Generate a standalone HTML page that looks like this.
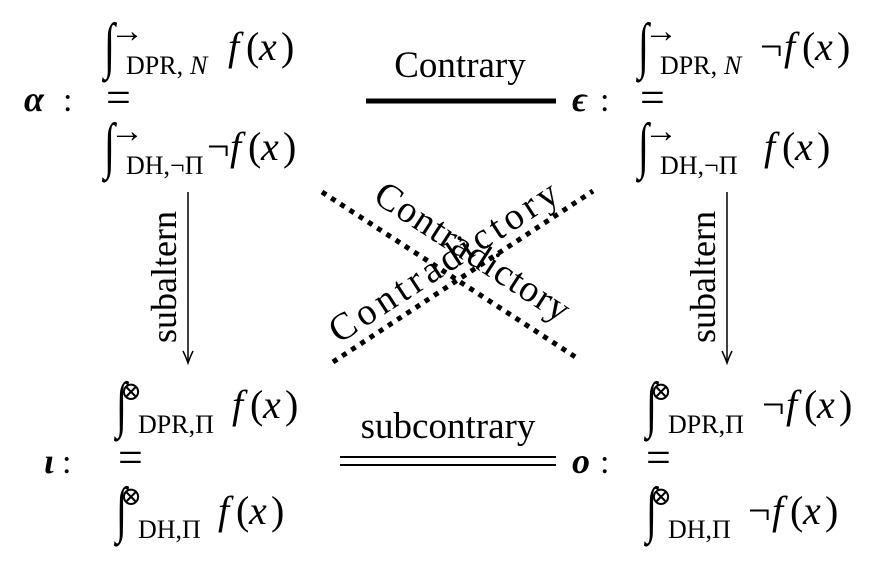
<!DOCTYPE html>
<html><head><meta charset="utf-8"><style>
html,body{margin:0;padding:0;background:#fff;}
svg{display:block;}
text{font-family:"Liberation Serif","DejaVu Serif",serif;fill:#000;}
.i{font-style:italic;}
</style></head><body>
<svg width="879" height="566" viewBox="0 0 879 566">
<!-- alpha block -->
<text x="24" y="111" font-size="36" font-weight="bold" class="i">α</text>
<text x="63" y="111" font-size="34">:</text>
<text transform="translate(104,66) scale(1,1.55)" font-size="40" class="i">∫</text>
<text x="110" y="42" font-size="34">→</text>
<text x="126" y="74" font-size="26">DPR,</text>
<text x="190" y="74" font-size="26" class="i">N</text>
<text x="228" y="60" font-size="40" class="i">f</text><text x="246" y="60" font-size="40">(</text><text x="259" y="60" font-size="40" class="i">x</text><text x="281" y="60" font-size="40">)</text>
<text x="106" y="112" font-size="44">=</text>
<text transform="translate(104,166) scale(1,1.55)" font-size="40" class="i">∫</text>
<text x="110" y="142" font-size="34">→</text>
<text x="126" y="174" font-size="26">DH,¬Π</text>
<text x="207" y="160" font-size="40">¬</text><text x="230" y="160" font-size="40" class="i">f</text><text x="248" y="160" font-size="40">(</text><text x="261" y="160" font-size="40" class="i">x</text><text x="283" y="160" font-size="40">)</text>
<!-- epsilon block -->
<text x="572" y="111" font-size="36" font-weight="bold" class="i">ϵ</text>
<text x="600" y="111" font-size="34">:</text>
<text transform="translate(638,66) scale(1,1.55)" font-size="40" class="i">∫</text>
<text x="644" y="42" font-size="34">→</text>
<text x="660" y="74" font-size="26">DPR,</text>
<text x="724" y="74" font-size="26" class="i">N</text>
<text x="760" y="60" font-size="40">¬</text><text x="784" y="60" font-size="40" class="i">f</text><text x="802" y="60" font-size="40">(</text><text x="815" y="60" font-size="40" class="i">x</text><text x="837" y="60" font-size="40">)</text>
<text x="640" y="112" font-size="44">=</text>
<text transform="translate(638,166) scale(1,1.55)" font-size="40" class="i">∫</text>
<text x="644" y="142" font-size="34">→</text>
<text x="660" y="174" font-size="26">DH,¬Π</text>
<text x="764" y="160" font-size="40" class="i">f</text><text x="782" y="160" font-size="40">(</text><text x="795" y="160" font-size="40" class="i">x</text><text x="817" y="160" font-size="40">)</text>
<!-- iota block -->
<text x="44" y="473" font-size="36" font-weight="bold" class="i">ι</text>
<text x="62" y="473" font-size="34">:</text>
<text transform="translate(116,425) scale(1,1.55)" font-size="40" class="i">∫</text>
<text x="120" y="400" font-size="26">⊗</text>
<text x="138" y="433" font-size="26">DPR,Π</text>
<text x="232" y="418" font-size="40" class="i">f</text><text x="250" y="418" font-size="40">(</text><text x="263" y="418" font-size="40" class="i">x</text><text x="285" y="418" font-size="40">)</text>
<text x="118" y="472" font-size="44">=</text>
<text transform="translate(116,530) scale(1,1.55)" font-size="40" class="i">∫</text>
<text x="120" y="505" font-size="26">⊗</text>
<text x="138" y="538" font-size="26">DH,Π</text>
<text x="218" y="524" font-size="40" class="i">f</text><text x="236" y="524" font-size="40">(</text><text x="249" y="524" font-size="40" class="i">x</text><text x="271" y="524" font-size="40">)</text>
<!-- o block -->
<text x="572" y="473" font-size="36" font-weight="bold" class="i">o</text>
<text x="600" y="473" font-size="34">:</text>
<text transform="translate(646,425) scale(1,1.55)" font-size="40" class="i">∫</text>
<text x="650" y="400" font-size="26">⊗</text>
<text x="668" y="433" font-size="26">DPR,Π</text>
<text x="762" y="418" font-size="40">¬</text><text x="786" y="418" font-size="40" class="i">f</text><text x="804" y="418" font-size="40">(</text><text x="817" y="418" font-size="40" class="i">x</text><text x="839" y="418" font-size="40">)</text>
<text x="646" y="472" font-size="44">=</text>
<text transform="translate(646,530) scale(1,1.55)" font-size="40" class="i">∫</text>
<text x="650" y="505" font-size="26">⊗</text>
<text x="668" y="538" font-size="26">DH,Π</text>
<text x="748" y="524" font-size="40">¬</text><text x="772" y="524" font-size="40" class="i">f</text><text x="790" y="524" font-size="40">(</text><text x="803" y="524" font-size="40" class="i">x</text><text x="825" y="524" font-size="40">)</text>
<!-- contrary -->
<text x="460" y="77" font-size="37" text-anchor="middle">Contrary</text>
<line x1="366" y1="101" x2="556" y2="101" stroke="#000" stroke-width="5"/>
<!-- subcontrary -->
<text x="448" y="438" font-size="37" text-anchor="middle">subcontrary</text>
<line x1="340" y1="457" x2="556" y2="457" stroke="#000" stroke-width="2"/>
<line x1="340" y1="465" x2="556" y2="465" stroke="#000" stroke-width="2"/>
<!-- subaltern arrows -->
<line x1="188" y1="192" x2="188" y2="362" stroke="#000" stroke-width="1.5"/>
<path d="M183,351 Q186,357 188,363 Q190,357 193,351" fill="none" stroke="#000" stroke-width="1.5"/>
<text transform="translate(176,277) rotate(-90)" font-size="36" text-anchor="middle">subaltern</text>
<line x1="727" y1="192" x2="727" y2="362" stroke="#000" stroke-width="1.5"/>
<path d="M722,351 Q725,357 727,363 Q729,357 732,351" fill="none" stroke="#000" stroke-width="1.5"/>
<text transform="translate(715,277) rotate(-90)" font-size="36" text-anchor="middle">subaltern</text>
<!-- diagonals -->
<line x1="322" y1="192" x2="577" y2="358" stroke="#000" stroke-width="5" stroke-dasharray="5,6"/>
<line x1="333" y1="362" x2="593" y2="191" stroke="#000" stroke-width="5" stroke-dasharray="5,6"/>
<text transform="translate(466,262) rotate(33)" font-size="38" text-anchor="middle" textLength="225" lengthAdjust="spacing">Contradictory</text>
<text transform="translate(450,272) rotate(-33)" font-size="38" text-anchor="middle" textLength="265" lengthAdjust="spacing">Contradictory</text>
</svg>
</body></html>
